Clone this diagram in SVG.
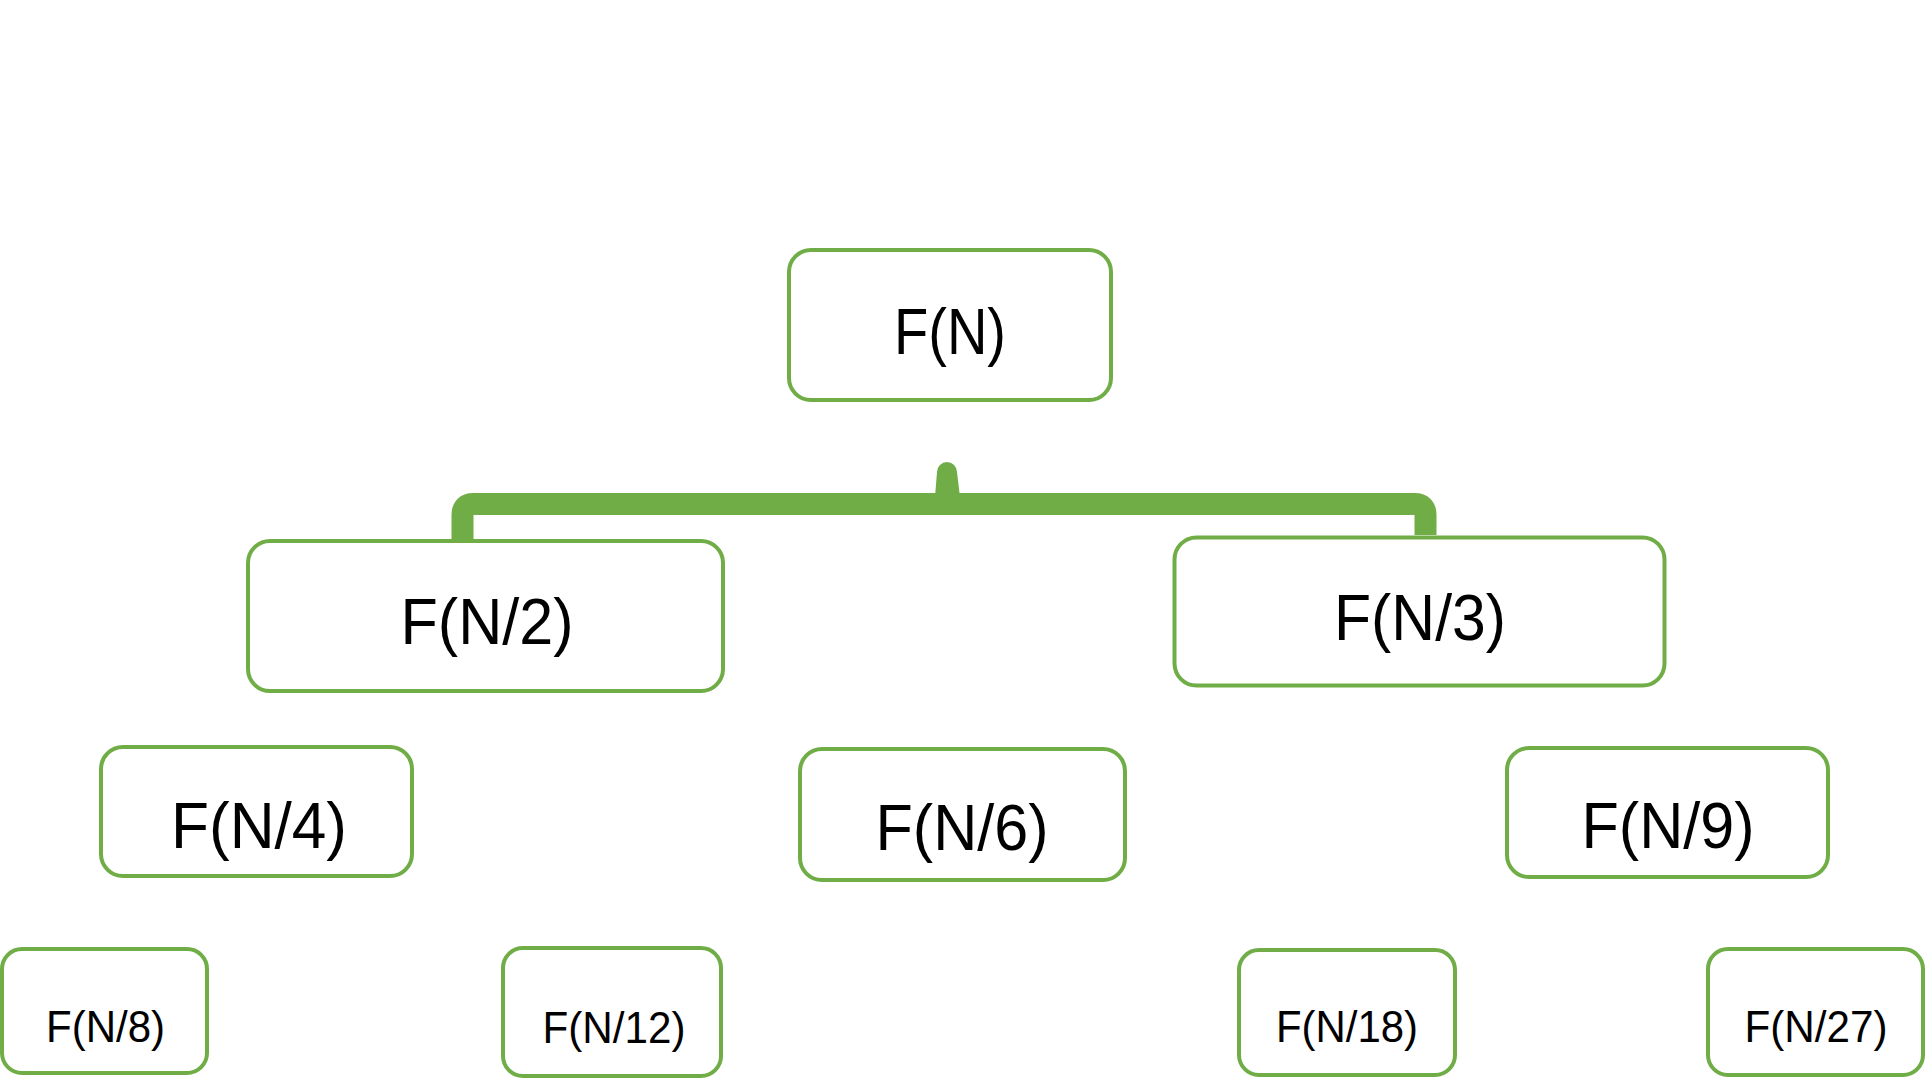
<svg xmlns="http://www.w3.org/2000/svg" width="1926" height="1085" viewBox="0 0 1926 1085">
<style>
.box{fill:#ffffff;stroke:#70AD47;stroke-width:4}
.big{font-family:"Liberation Sans",Arial,sans-serif;font-size:65px;fill:#000000;text-anchor:middle}
.small{font-family:"Liberation Sans",Arial,sans-serif;font-size:45px;fill:#000000;text-anchor:middle}
.brace{fill:none;stroke:#70AD47;stroke-width:22;stroke-linejoin:round}
</style>
<rect width="1926" height="1085" fill="#ffffff"/>
<g id="connectors">
<path class="brace" d="M 462.5 540 V 515 Q 462.5 504 473.5 504 H 1414.5 Q 1425.5 504 1425.5 515 V 535"/>
<path d="M 935 497 L 937 472 A 10 10 0 0 1 957 472 L 960 497 Z" fill="#70AD47"/>
</g>
<g id="n_FN">
<rect class="box" x="789" y="250" width="322" height="150" rx="22"/>
<text class="big" x="950" y="354" textLength="112" lengthAdjust="spacingAndGlyphs">F(N)</text>
</g>
<g id="n_FN2">
<rect class="box" x="248" y="541" width="475" height="150" rx="22"/>
<text class="big" x="487" y="644" textLength="173" lengthAdjust="spacingAndGlyphs">F(N/2)</text>
</g>
<g id="n_FN3">
<rect class="box" x="1174.5" y="537.5" width="490" height="148" rx="22"/>
<text class="big" x="1420" y="640" textLength="172" lengthAdjust="spacingAndGlyphs">F(N/3)</text>
</g>
<g id="n_FN4">
<rect class="box" x="101" y="747" width="311" height="129" rx="22"/>
<text class="big" x="259" y="848" textLength="176" lengthAdjust="spacingAndGlyphs">F(N/4)</text>
</g>
<g id="n_FN6">
<rect class="box" x="800" y="749" width="325" height="131" rx="22"/>
<text class="big" x="962" y="850" textLength="173" lengthAdjust="spacingAndGlyphs">F(N/6)</text>
</g>
<g id="n_FN9">
<rect class="box" x="1507" y="748" width="321" height="129" rx="22"/>
<text class="big" x="1668" y="848" textLength="173" lengthAdjust="spacingAndGlyphs">F(N/9)</text>
</g>
<g id="n_FN8">
<rect class="box" x="2" y="949" width="205" height="124" rx="20"/>
<text class="small" x="105.5" y="1042" textLength="119" lengthAdjust="spacingAndGlyphs">F(N/8)</text>
</g>
<g id="n_FN12">
<rect class="box" x="503" y="948" width="218" height="128" rx="20"/>
<text class="small" x="614" y="1043" textLength="143" lengthAdjust="spacingAndGlyphs">F(N/12)</text>
</g>
<g id="n_FN18">
<rect class="box" x="1239" y="950" width="216" height="125" rx="20"/>
<text class="small" x="1347" y="1042" textLength="142" lengthAdjust="spacingAndGlyphs">F(N/18)</text>
</g>
<g id="n_FN27">
<rect class="box" x="1708" y="949" width="215" height="126" rx="20"/>
<text class="small" x="1816" y="1042" textLength="143" lengthAdjust="spacingAndGlyphs">F(N/27)</text>
</g>
</svg>
